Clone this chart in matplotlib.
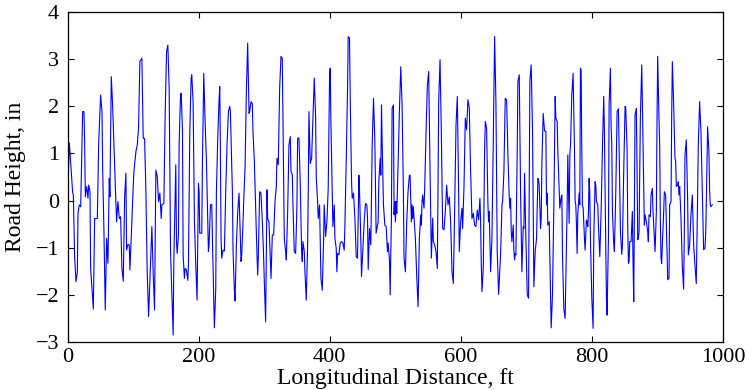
import matplotlib
matplotlib.use("Agg")
import matplotlib.pyplot as plt

# road profile (distance in ft, height in in)
distance_ft = [
    0.8, 1.0, 2.8, 7.9, 8.9, 10.9, 13.0, 15.0, 16.0, 18.0, 20.1, 22.1, 23.1, 25.1, 26.2,
    27.2, 29.2, 31.2, 32.3, 34.3, 35.3, 37.3, 39.4, 41.4, 45.5, 47.5, 50.5, 52.6, 53.6,
    55.6, 57.6, 59.7, 61.7, 63.7, 64.7, 66.8, 68.8, 70.8, 72.9, 74.9, 76.9, 79.0, 81.0,
    83.0, 85.1, 87.1, 89.1, 90.1, 92.2, 94.2, 95.2, 97.2, 99.3, 101.3, 104.4, 106.4,
    108.4, 110.4, 113.5, 115.5, 117.6, 119.6, 121.6, 123.7, 125.7, 128.7, 130.8, 132.8,
    134.8, 136.9, 138.9, 140.9, 143.0, 144.0, 147.0, 149.0, 151.1, 153.1, 155.1, 157.2,
    159.2, 161.2,
    162.2, 165.2, 166.3, 167.3, 169.3, 170.3, 172.3, 173.4, 175.4, 176.4, 178.4, 179.5,
    181.5, 183.5, 184.5, 186.6, 188.6, 189.6, 191.6, 192.7, 193.7, 195.7, 197.7, 198.8,
    199.8, 200.8, 201.8, 204.8, 205.9, 207.9, 209.9, 212.0, 214.0, 215.0, 216.0, 218.1,
    220.1, 221.1, 223.1, 224.1, 226.2, 227.2, 229.2, 231.3, 232.3, 233.3, 234.3, 235.3,
    237.3, 239.4, 241.4, 243.4, 245.5, 247.5, 248.5, 249.5, 251.6, 252.6, 254.6, 255.6,
    257.7, 259.7, 261.7, 262.7, 264.8, 265.8, 267.8, 268.8, 270.9, 272.9, 274.9, 277.0,
    278.0, 280.0, 282.0, 283.1, 285.1, 287.1, 289.1, 290.2, 291.2, 293.2, 295.2, 297.3,
    299.3, 300.3, 302.3, 304.4, 305.4, 307.4, 309.5, 310.5, 312.5, 314.5, 316.6, 318.6,
    319.6, 321.6, 323.7, 325.7, 327.7,
    330.8, 332.8, 333.9, 335.9, 337.9, 339.9, 341.0, 343.0, 344.0, 346.0, 348.1, 350.1,
    351.1, 353.2, 355.2, 357.2, 358.2, 359.2, 361.3, 362.3, 364.3, 366.4, 367.4, 368.4,
    370.4, 372.5, 373.5, 375.5, 376.5, 378.5, 379.6, 381.6, 382.6, 384.6, 386.7, 388.7,
    390.7, 391.7, 393.8, 395.8, 397.8, 399.9, 400.9, 401.9, 403.9, 404.9, 407.0, 408.0,
    410.0, 411.0, 412.1, 414.1, 416.1, 418.2, 420.2, 422.2, 423.2, 425.3, 427.3, 428.3,
    430.3, 431.4, 433.4, 434.4, 436.4, 438.5, 440.5, 442.5, 444.6, 445.6, 447.6, 448.6,
    450.7, 452.7, 454.7, 456.7, 457.8, 458.8, 460.8, 462.8, 464.9, 466.9, 468.9, 470.9,
    474.0, 475.0, 477.1, 478.1, 479.1, 480.1, 482.1, 484.2, 486.2, 488.2, 489.2, 491.3,
    492.3,
    494.2, 495.3, 497.3, 498.3, 499.3, 500.3, 501.4, 502.4, 504.4, 506.4, 508.5, 510.5,
    512.5, 513.5, 515.6, 517.6, 519.6, 521.7, 522.7, 524.7, 525.7, 526.7, 527.8, 528.8,
    530.8, 532.8, 534.9, 536.9, 538.9, 539.9, 541.0, 542.0, 544.0, 545.0, 547.1, 549.1,
    551.1, 553.2, 555.2, 557.2, 558.2, 560.3, 562.3, 564.3, 566.4, 568.4, 570.4, 572.4,
    574.5, 576.5, 578.5, 580.6, 582.6, 584.6, 586.7, 588.7, 590.7, 592.8, 594.8, 596.8,
    597.8, 599.9, 601.9, 602.9, 604.9, 607.0, 609.0, 611.0, 613.1, 615.1, 617.1, 619.2,
    621.2, 623.2, 625.3, 627.3, 629.3, 630.3, 631.4, 632.4, 634.4, 636.4, 637.5, 639.5,
    641.5, 642.5, 643.5, 645.6, 647.6, 649.6, 651.7, 653.7, 655.7, 657.8,
    660.8, 662.9, 663.9, 665.9, 667.9, 670.0, 672.0, 674.0, 675.0, 676.1, 677.1, 678.1,
    680.1, 681.1, 682.2, 683.2, 684.2, 686.2, 687.2, 689.3, 691.3, 693.3, 695.4, 696.4,
    697.4, 699.4, 701.5, 703.5, 704.5, 705.5, 707.5, 709.6, 711.6, 713.6, 715.7, 717.7,
    718.7, 719.7, 721.8, 722.8, 723.8, 725.8, 727.9, 729.9, 730.9, 731.9, 732.9, 735.0,
    737.0, 738.0, 740.0, 742.1, 744.1, 745.1, 747.2, 748.2, 750.2, 751.2, 753.3, 754.3,
    755.3, 757.3, 759.3, 761.4, 762.4, 763.4, 765.4, 766.5, 767.5, 769.5, 771.5, 773.6,
    774.6, 775.6, 776.6, 777.6, 778.6, 780.7, 781.7, 782.7, 783.7, 784.7, 785.7, 786.8,
    788.8, 789.8, 790.8, 791.8, 792.9, 793.9, 794.9, 795.9, 796.9, 797.9, 800.0, 802.0,
    803.0, 805.0, 806.1, 807.1, 809.1, 810.1, 812.2, 814.2, 816.2, 818.2, 819.3, 820.3,
    822.3, 823.3, 825.4, 826.4,
    828.4, 829.4, 830.5, 831.5, 833.5, 834.5, 836.6, 838.6, 840.6, 841.6, 843.7, 845.7,
    846.7, 848.7, 850.8, 851.8, 853.8, 854.8, 855.9, 856.9, 857.9, 859.9, 861.9, 863.0,
    864.0, 865.0, 866.0, 868.0, 869.1, 870.1, 871.1, 872.1, 873.1, 874.1, 876.2, 877.2,
    879.2, 880.2, 881.2, 883.3, 885.3, 886.3, 887.3, 889.4, 890.4, 892.4, 893.4, 895.5,
    896.5, 898.5, 899.5, 900.5, 902.6, 903.6, 904.6, 905.6, 906.6, 907.6, 909.7, 910.7,
    912.7, 913.7, 915.8, 917.8, 918.8, 920.9, 921.9, 922.9, 924.9, 926.9, 928.0, 929.0,
    931.0, 932.0, 933.0, 934.1, 936.1, 938.1, 940.1, 941.2, 942.2, 944.2, 946.2, 947.3,
    949.3, 951.3, 953.4, 955.4, 957.4, 959.4, 960.5, 962.5, 964.5, 966.6, 968.6, 970.6,
    972.6, 973.7, 974.7, 976.7, 978.7, 979.8, 980.8, 981.8, 983.8,
]

height_in = [
    -0.41, 0.45, 1.22, 0.16, 0.12, -1.22, -1.72, -1.51, -0.27, -0.09, -0.13, 1.18, 1.89, 1.89, 1.18,
    0.08, 0.30, 0.05, 0.33, 0.19, -1.44, -1.86, -2.30, -0.38, -0.38, 1.18, 2.24, 1.89, 0.69,
    -0.66, -2.32, -0.80, -1.33, 0.47, 0.08, 2.63, 2.03, 1.18, 0.33, -0.45, -0.02, -0.38, -0.34,
    -1.44, -1.71, 0.05, 0.58, -1.05, -0.93, -0.94, -1.47, -0.80, -0.02, 0.62, 1.04, 1.18,
    1.54, 2.95, 3.02, 1.32, 1.32, 0.19, -1.51, -2.46, -1.72, -0.55, -1.58, -2.32,
    0.65, 0.51, -0.02, 0.16, -0.38, -0.09, -0.06, 1.82, 3.16, 3.30, 2.39, -1.08,
    -2.00, -2.85,
    -1.30, 0.76, -0.87, -1.12, -0.73, 1.18, 2.17, 2.28, 1.53, -1.15, -1.65, -1.44,
    -1.47, -1.69, -1.37, 1.46, 2.60, 2.67, 2.10, 0.82, -0.45, -1.37, -2.11, -0.80,
    0.37, 0.19, -0.69, -0.69, 0.82, 2.70, 1.68, 0.83, -0.45, -1.08, -0.94, -0.09,
    -0.08, -0.80, -2.08, -2.70, -1.86, 0.19, 1.32, 2.17, 2.42, 1.04, -0.80, -1.22,
    -1.05, -1.07, 0.19, 1.18, 1.89, 2.00, 1.89, 1.32, 0.19, -1.08, -1.90, -2.13,
    -0.94, -0.23, 0.16, -0.30, -1.29, -1.15, -0.45, -0.02, 0.69, 2.31, 3.34, 1.85,
    1.89, 2.10, 2.06, 1.43, 0.83, -0.16, -1.15, -1.58, -1.15, 0.19, 0.16, -0.45,
    -1.22, -1.72, -2.57, 0.23, -0.38, -0.45, -1.29, -1.65, -0.73, -0.73, -0.02, 0.30,
    0.90, 0.76, 2.38, 3.06, 3.02,
    -0.80, -1.08, -1.26, -0.23, 1.18, 1.36, 0.62, 0.55, -0.09, -1.08, -1.12, -0.09,
    1.32, 1.33, 0.33, -1.08, -1.29, -0.87, -1.08, -1.51, -2.11, -0.94, 0.26, 1.89,
    0.79, 0.90, 1.32, 2.17, 2.60, 1.82, 0.47, -0.02, -0.38, -0.09, -1.65, -1.90,
    -0.87, -0.09, -0.76, -0.45, 0.26, 2.67, 2.81, 1.68, 0.19, -0.55, -0.09, -0.80,
    -1.01, -1.51, -1.12, -1.15, -0.90, -0.87, -0.90, -1.05, -0.55, 0.86, 2.38, 3.48,
    3.45, 2.17, 0.40, 0.05, 0.16, -0.38, -1.19, -1.22, 0.54, 0.19, -0.87, -1.61,
    -1.01, -0.45, -0.06, -0.09, -0.38, -1.46, -0.59, -0.94, 1.18, 2.17, 1.32, -0.69,
    -0.45, 0.40, 0.90, 0.54, 2.03, 1.25, -0.09, -0.52, -0.55, -1.08, -0.90, -1.26,
    -2.00,
    -0.38, 1.96, 2.03, -0.30, -0.02, -0.45, -0.02, -0.27, 0.76, 1.89, 2.84, 2.03,
    0.19, -1.22, -1.51, -0.45, 0.19, 0.54, 0.54, -0.45, -0.09, -0.38, -0.13, -0.38,
    -0.80, -1.58, -2.25, -0.80, -0.30, -0.52, -0.02, 0.12, -0.16, 0.26, 1.46, 2.45,
    2.74, 0.62, -1.22, -0.37, -0.87, -0.94, -1.08, -1.44, 2.10, 2.99, 1.46, -0.59,
    -0.62, -0.23, 0.33, -0.09, 0.08, -0.45, -1.51, -1.76, -0.23, 1.61, 2.21, 0.19,
    -1.08, -0.45, -0.16, -0.59, 0.26, 1.75, 1.50, 2.14, 1.96, 0.62, -0.38, -0.27,
    -0.52, -0.55, -0.20, -0.41, 0.05, -0.41, -1.37, -1.93, -1.44, 1.04, 1.68, 1.53,
    -0.09, -0.45, -0.23, -1.51, -0.80, 1.18, 3.48, 2.10, -1.08, -1.99,
    -1.15, -0.09, -0.02, 0.62, 2.17, 2.14, 0.97, 0.08, -0.16, 0.05, -0.66, -0.87,
    -0.52, -1.05, -1.26, -1.12, -1.15, 1.04, 2.53, 2.67, 0.19, -1.51, -0.55, -0.59,
    0.58, -0.80, -2.00, -2.07, 0.19, 2.53, 2.88, 1.46, -1.83, -1.08, -0.80, 0.47,
    0.44, 0.33, -0.59, -0.38, 0.76, 1.85, 1.48, 1.47, -0.09, 0.16, -0.52, -0.45,
    -1.93, -2.70, -2.00, -0.09, 2.21, 1.75, 1.68, 1.04, 0.26, -0.16, 0.08, 0.12,
    -1.15, -2.29, -2.50, -0.80, -0.09, 0.97, -0.48, 0.97, 1.18, 2.24, 2.70, 1.04,
    -0.02, -0.09, -0.52, -1.12, -0.30, 0.16, -0.09, 2.81, 2.77, 1.11, -0.09, -0.16,
    -0.80, -1.05, -0.73, -0.41, -0.45, -0.55, -0.23, 0.47, 0.19, -0.80, -2.07, -2.71,
    -0.80, 0.40, 0.33, -0.02, -0.09, -0.52, -1.19, -0.23, 1.11, 2.21, 1.46, 0.19,
    -2.07, -2.43, -0.80, 2.03,
    2.81, 1.60, 1.18, -0.23, -0.94, -1.08, 0.19, 1.89, 1.95, 1.18, -0.66, -1.14,
    -0.94, 0.62, 2.00, 1.96, 1.11, -0.52, -1.33, -1.30, -0.87, -0.87, -0.23, -1.37,
    -2.14, -0.09, 1.82, 1.96, 0.62, -0.83, -0.80, -0.66, 0.54, 1.75, 2.88, 2.03,
    0.19, -0.52, -0.30, -0.45, -0.66, -0.87, -0.30, -0.34, 0.12, 0.26, -0.23, -0.80,
    -1.08, -0.23, 1.68, 3.06, 1.68, 1.18, -0.45, -1.22, -1.33, -0.94, -0.23, 0.19,
    0.12, -0.45, -1.68, -1.65, -0.09, -0.02, 1.82, 2.95, 2.03, 0.90, 0.83, 0.30,
    0.33, 0.40, 0.12, 0.30, -0.38, -1.37, -1.88, -0.66, 0.97, 1.29, 0.05, -1.15,
    -0.94, -0.30, 0.12, -0.94, -1.37, -1.76, -0.80, 1.18, 2.10, 1.46, 0.19, -1.04,
    -1.01, -0.73, -0.09, 1.57, 1.04, 0.19, -0.09, -0.13, -0.09,
]

x_ticks = [0, 200, 400, 600, 800, 1000]
y_ticks = [-3, -2, -1, 0, 1, 2, 3, 4]

plt.rcParams['font.family'] = ['Liberation Serif', 'DejaVu Serif']

fig = plt.figure(figsize=(7.46, 3.90), dpi=100)
ax = fig.add_axes([0.0905, 0.123, 0.8785, 0.846])

ax.plot(distance_ft, height_in, color='#0000ff', linewidth=0.8)

ax.set_xlim(0, 1000)
ax.set_ylim(-3, 4)
ax.set_xticks(x_ticks)
ax.set_yticks(y_ticks)
ax.tick_params(direction='in', top=True, right=True, length=4, width=0.8,
               labelsize=16)
ax.tick_params(axis='x', pad=4)
ax.tick_params(axis='y', pad=6)
for side in ax.spines.values():
    side.set_linewidth(0.9)

ax.set_xlabel('Longitudinal Distance, ft', fontsize=17, labelpad=1)
ax.set_ylabel('Road Height, in', fontsize=17, labelpad=7)

fig.savefig('out.png', dpi=100)
